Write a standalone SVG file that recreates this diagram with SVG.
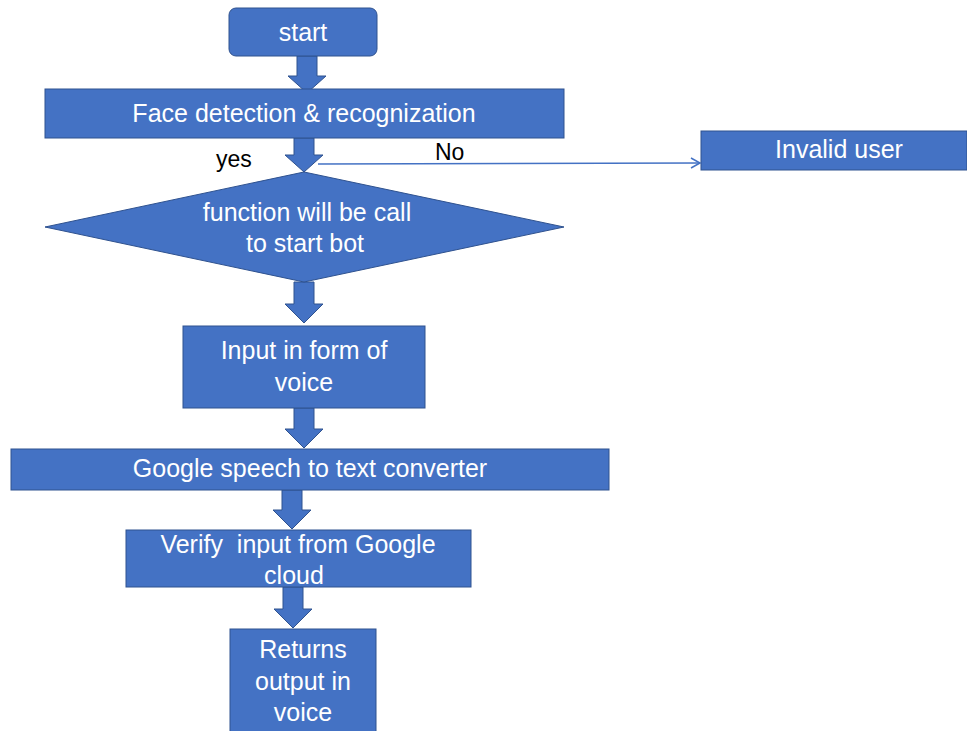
<svg xmlns="http://www.w3.org/2000/svg" width="967" height="731" viewBox="0 0 967 731">
<defs>
<style>
.box{fill:#4472C4;stroke:#2F528F;stroke-width:1}
.arr{fill:#4472C4;stroke:#2F528F;stroke-width:1}
.t{font-family:"Liberation Sans",Arial,sans-serif;font-size:25px;fill:#ffffff;text-anchor:middle}
.lbl{font-family:"Liberation Sans",Arial,sans-serif;font-size:23px;fill:#000000}
.line{stroke:#4472C4;stroke-width:1.5;fill:none}
</style>
<marker id="open" markerWidth="12" markerHeight="12" refX="10" refY="6" orient="auto" markerUnits="userSpaceOnUse">
<path d="M1,1 L10,6 L1,11" fill="none" stroke="#4472C4" stroke-width="1.5"/>
</marker>
</defs>
<rect width="967" height="731" fill="#ffffff"/>
<g id="connectors">
<path class="arr" d="M297,56 H317 V76 H326 L307,93 L288,76 H297 Z"/>
<path class="arr" d="M294,138 H314 V155 H323 L304,172 L285,155 H294 Z"/>
<path class="arr" d="M294,282 H314 V304 H323 L304,323 L285,304 H294 Z"/>
<path class="arr" d="M294,408 H314 V429 H323 L304,448 L285,429 H294 Z"/>
<path class="arr" d="M282,490 H302 V510 H311 L292,529 L273,510 H282 Z"/>
<path class="arr" d="M283,587 H303 V609 H312 L293,628 L274,609 H283 Z"/>
<line class="line" x1="318" y1="164" x2="700" y2="163" marker-end="url(#open)"/>
<text class="lbl" x="216" y="167">yes</text>
<text class="lbl" x="435" y="160">No</text>
</g>
<g id="start">
<rect class="box" x="229" y="8" width="148" height="48" rx="7"/>
<text class="t" x="303" y="41">start</text>
</g>
<g id="face">
<rect class="box" x="45" y="89" width="519" height="49"/>
<text class="t" x="304" y="122">Face detection &amp; recognization</text>
</g>
<g id="invalid">
<rect class="box" x="701" y="131" width="266" height="39"/>
<text class="t" x="839" y="158">Invalid user</text>
</g>
<g id="decision">
<polygon class="box" points="304,172 564,227 304,282 45,227"/>
<text class="t" x="307" y="221">function will be call</text>
<text class="t" x="305" y="252">to start bot</text>
</g>
<g id="input">
<rect class="box" x="183" y="326" width="242" height="82"/>
<text class="t" x="304" y="359">Input in form of</text>
<text class="t" x="304" y="391">voice</text>
</g>
<g id="google">
<rect class="box" x="11" y="449" width="598" height="41"/>
<text class="t" x="310" y="477">Google speech to text converter</text>
</g>
<g id="verify">
<rect class="box" x="126" y="530" width="345" height="57"/>
<text class="t" x="298" y="553" xml:space="preserve">Verify  input from Google</text>
<text class="t" x="294" y="584">cloud</text>
</g>
<g id="returns">
<rect class="box" x="230" y="629" width="146" height="106"/>
<text class="t" x="303" y="658">Returns</text>
<text class="t" x="303" y="690">output in</text>
<text class="t" x="303" y="721">voice</text>
</g>
</svg>
